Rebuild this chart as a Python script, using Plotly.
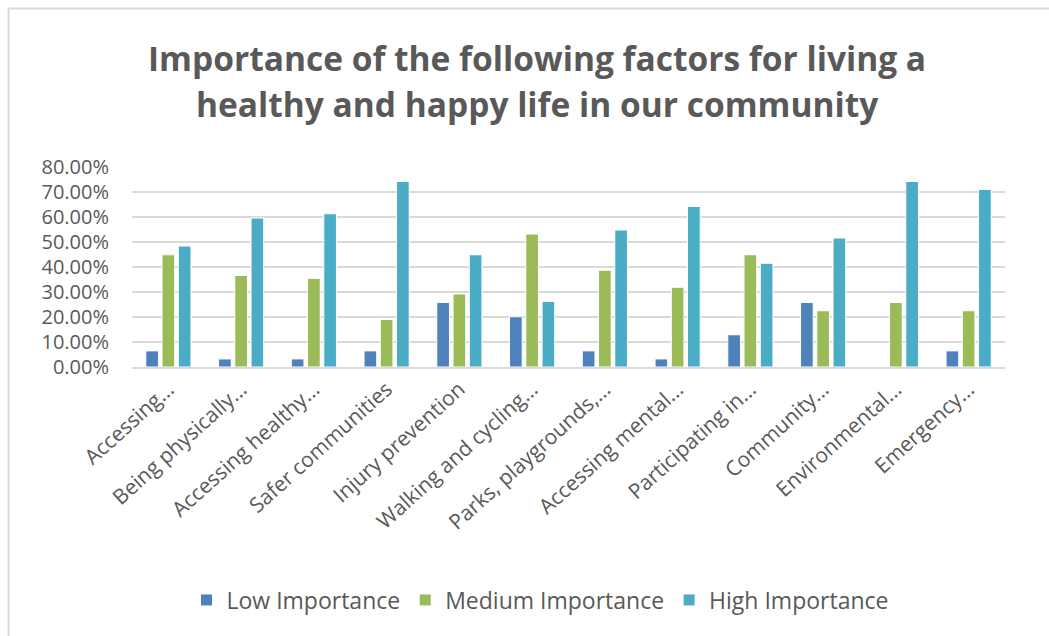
import plotly.graph_objects as go

categories = ["Accessing...", "Being physically...", "Accessing healthy...", "Safer communities",
              "Injury prevention", "Walking and cycling...", "Parks, playgrounds,...", "Accessing mental...",
              "Participating in...", "Community...", "Environmental...", "Emergency..."]
low = [0.0645, 0.0323, 0.0323, 0.0645, 0.258, 0.201, 0.0645, 0.0323, 0.129, 0.258, 0.0, 0.0645]
medium = [0.449, 0.366, 0.355, 0.19, 0.292, 0.532, 0.387, 0.319, 0.449, 0.225, 0.258, 0.225]
high = [0.484, 0.596, 0.613, 0.742, 0.449, 0.262, 0.548, 0.642, 0.415, 0.516, 0.742, 0.71]
series_names = ["Low Importance", "Medium Importance", "High Importance"]
colors = ["#4F81BD", "#9BBB59", "#4BACC6"]
y_ticks = [0, 0.1, 0.2, 0.3, 0.4, 0.5, 0.6, 0.7, 0.8]
title_lines = ["Importance of the following factors for living a",
               "healthy and happy life in our community"]

W, H = 1049, 636
L, R, T, B = 132, 44, 167, 269
pw, ph = W - L - R, H - T - B

def px_x(x):
    return (x - L) / pw

def px_y(y):
    return (H - B - y) / ph

fig = go.Figure()
for name, vals, c in zip(series_names, [low, medium, high], colors):
    fig.add_trace(go.Bar(x=categories, y=vals, name=name,
                         marker=dict(color=c, line=dict(color="white", width=1))))

font_fam = "Open Sans, sans-serif"
grey = "#595959"

fig.update_layout(
    width=W, height=H,
    margin=dict(l=L, r=R, t=T, b=B),
    paper_bgcolor="white", plot_bgcolor="white",
    barmode="group", bargap=0.33, bargroupgap=0.22,
    font=dict(family=font_fam, color=grey),
    showlegend=True,
    legend=dict(orientation="h", x=px_x(540), xanchor="center", y=px_y(600), yanchor="middle",
                font=dict(size=23, color=grey), itemwidth=30, traceorder="normal"),
    xaxis=dict(tickangle=-42, tickfont=dict(size=21, color=grey), showgrid=False,
               showline=True, linecolor="#D9D9D9", linewidth=1.5, ticks=""),
    yaxis=dict(range=[0, 0.8], tickvals=y_ticks, tickformat=".2%",
               tickfont=dict(size=20, color=grey), gridcolor="#D9D9D9", gridwidth=1.5,
               zeroline=False, showline=False, ticks="", ticklabelstandoff=22),
    shapes=[dict(type="rect", xref="paper", yref="paper",
                 x0=px_x(8.5), x1=px_x(1100), y0=px_y(700), y1=px_y(8.5),
                 line=dict(color="#D9D9D9", width=2), fillcolor="rgba(0,0,0,0)", layer="below")],
    annotations=[
        dict(text="<b>%s</b>" % title_lines[0], xref="paper", yref="paper",
             x=px_x(537), y=px_y(58), xanchor="center", yanchor="middle", showarrow=False,
             font=dict(size=33.5, color=grey, family=font_fam)),
        dict(text="<b>%s</b>" % title_lines[1], xref="paper", yref="paper",
             x=px_x(537), y=px_y(104), xanchor="center", yanchor="middle", showarrow=False,
             font=dict(size=33.5, color=grey, family=font_fam)),
    ],
)

fig.write_html("out.html")
